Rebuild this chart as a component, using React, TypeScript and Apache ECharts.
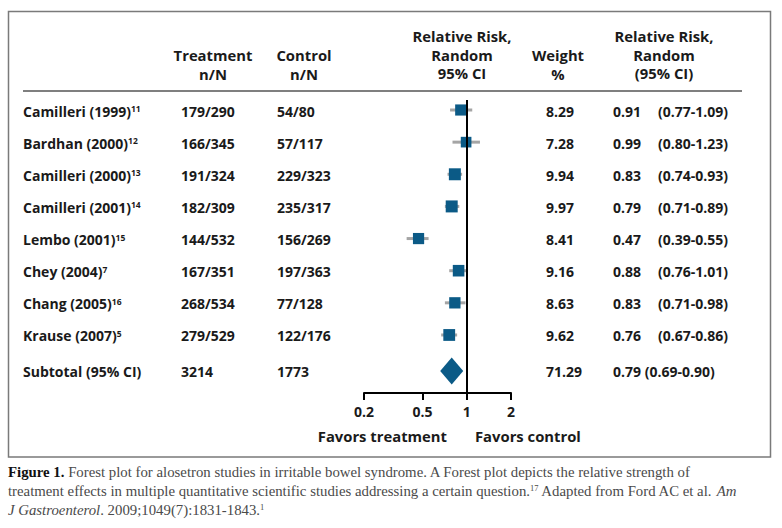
import React, { useEffect, useRef } from 'react';
import * as echarts from 'echarts';

// ---- data ----
const studies = ['Camilleri (1999)', 'Bardhan (2000)', 'Camilleri (2000)', 'Camilleri (2001)', 'Lembo (2001)', 'Chey (2004)', 'Chang (2005)', 'Krause (2007)'];
const refs = ['11', '12', '13', '14', '15', '7', '16', '5'];
const treatment = ['179/290', '166/345', '191/324', '182/309', '144/532', '167/351', '268/534', '279/529'];
const control = ['54/80', '57/117', '229/323', '235/317', '156/269', '197/363', '77/128', '122/176'];
const weights = [8.29, 7.28, 9.94, 9.97, 8.41, 9.16, 8.63, 9.62];
const rr = [0.91, 0.99, 0.83, 0.79, 0.47, 0.88, 0.83, 0.76];
const ciLow = [0.77, 0.8, 0.74, 0.71, 0.39, 0.76, 0.71, 0.67];
const ciHigh = [1.09, 1.23, 0.93, 0.89, 0.55, 1.01, 0.98, 0.86];

const subtotalLabel = 'Subtotal (95% CI)';
const subtotalTreatment = '3214';
const subtotalControl = '1773';
const subtotalWeight = 71.29;
const subtotalRR = 0.79;
const subtotalLow = 0.69;
const subtotalHigh = 0.9;

const axisTicks = [0.2, 0.5, 1, 2];

// ---- layout ----
const SANS = '"Open Sans", "Noto Sans", sans-serif';
const SERIF = '"Liberation Serif", "DejaVu Serif", serif';
const TXT = '#1a1a1a';
const BLUE = '#0b5a86';
const FS = 14;
const HFS = 14.8;
const CFS = 14.8;
const ROW_H = 32.14;
const ROW0 = 110;
const GRID_TOP = 100;
const GRID_BOTTOM = 393;
const yMin = (GRID_TOP - ROW0) / ROW_H;
const yMax = (GRID_BOTTOM - ROW0) / ROW_H;
const subtotalRow = 8.12;
const COL = { study: 23, treat: 181, control: 277, weight: 546, rr: 613, ci: 658 };

const rows = studies.map((_, i) => i);

export default function App() {
  const ref = useRef<HTMLDivElement>(null);
  useEffect(() => {
    document.body.style.margin = '0';
    const chart = echarts.init(ref.current!, null, { renderer: 'svg' });

    const textCol = (x: number, texts: string[], rowPos: number[], align: string, richNames = false) => ({
      type: 'custom',
      xAxisIndex: 1,
      yAxisIndex: 1,
      silent: true,
      data: rowPos.map((r) => [x, r]),
      renderItem: (params: any, api: any) => {
        const p = api.coord([api.value(0), api.value(1)]);
        return {
          type: 'text',
          x: p[0],
          y: p[1] + 1,
          style: {
            text: texts[params.dataIndex],
            fill: TXT,
            fontSize: FS,
            fontWeight: 'bold',
            fontFamily: SANS,
            align,
            verticalAlign: 'middle',
            rich: richNames
              ? {
                  n: { fontSize: FS, fontWeight: 'bold', fontFamily: SANS, fill: TXT },
                  s: { fontSize: 8.5, fontWeight: 'bold', fontFamily: SANS, fill: TXT, verticalAlign: 'top', lineHeight: 9 },
                }
              : undefined,
          },
        };
      },
    });

    const allRows = [...rows, subtotalRow];
    const nameTexts = [...studies.map((s, i) => `{n|${s}}{s|${refs[i]}}`), `{n|${subtotalLabel}}`];
    const treatTexts = [...treatment, subtotalTreatment];
    const controlTexts = [...control, subtotalControl];
    const weightTexts = [...weights.map((w) => w.toFixed(2)), subtotalWeight.toFixed(2)];
    const rrTexts = [
      ...rr.map((v) => v.toFixed(2)),
      `${subtotalRR.toFixed(2)} (${subtotalLow.toFixed(2)}-${subtotalHigh.toFixed(2)})`,
    ];
    const ciTexts = ciLow.map((l, i) => `(${l.toFixed(2)}-${ciHigh[i].toFixed(2)})`);

    const headerStyle = (text: string) => ({
      text,
      fill: TXT,
      fontSize: HFS,
      fontWeight: 'bold',
      fontFamily: SANS,
      align: 'center',
      verticalAlign: 'top',
      lineHeight: 18.5,
    });

    const capBase = { fill: '#4a4a4a', fontSize: CFS, fontFamily: SERIF };

    chart.setOption({
      animation: false,
      grid: [
        { left: 364, width: 147, top: GRID_TOP, height: GRID_BOTTOM - GRID_TOP },
        { left: 0, width: 782, top: GRID_TOP, height: GRID_BOTTOM - GRID_TOP },
      ],
      xAxis: [
        {
          type: 'log',
          logBase: 10,
          gridIndex: 0,
          position: 'bottom',
          min: 0.2,
          max: 2,
          splitLine: { show: false },
          axisLine: { onZero: false, lineStyle: { color: '#000', width: 2 } },
          axisTick: { customValues: axisTicks, length: 7, lineStyle: { color: '#000', width: 2 } },
          axisLabel: {
            customValues: axisTicks,
            margin: 11,
            fontSize: FS,
            fontWeight: 'bold',
            fontFamily: SANS,
            color: TXT,
            formatter: (v: number) => String(+Number(v).toPrecision(3)),
          },
        },
        { type: 'value', gridIndex: 1, min: 0, max: 782, show: false },
      ],
      yAxis: [
        { type: 'value', gridIndex: 0, inverse: true, min: yMin, max: yMax, show: false },
        { type: 'value', gridIndex: 1, inverse: true, min: yMin, max: yMax, show: false },
      ],
      graphic: [
        { type: 'rect', shape: { x: 8.5, y: 11.5, width: 762, height: 445.5 }, style: { fill: 'none', stroke: '#7a7a7a', lineWidth: 1.5 }, z: 1 },
        { type: 'line', shape: { x1: 23, y1: 91, x2: 742, y2: 91 }, style: { stroke: '#555', lineWidth: 1.5 } },
        { type: 'text', x: 213, y: 46, style: headerStyle('Treatment\nn/N') },
        { type: 'text', x: 304, y: 46, style: headerStyle('Control\nn/N') },
        { type: 'text', x: 462, y: 27, style: headerStyle('Relative Risk,\nRandom\n95% CI') },
        { type: 'text', x: 558, y: 46, style: headerStyle('Weight\n%') },
        { type: 'text', x: 664, y: 27, style: headerStyle('Relative Risk,\nRandom\n(95% CI)') },
        { type: 'text', x: 447, y: 436, style: { text: 'Favors treatment', fill: TXT, fontSize: HFS, fontWeight: 'bold', fontFamily: SANS, align: 'right', verticalAlign: 'middle' } },
        { type: 'text', x: 475, y: 436, style: { text: 'Favors control', fill: TXT, fontSize: HFS, fontWeight: 'bold', fontFamily: SANS, align: 'left', verticalAlign: 'middle' } },
        {
          type: 'text', x: 8, y: 472,
          style: {
            ...capBase,
            verticalAlign: 'middle',
            text: '{b|Figure 1.} Forest plot for alosetron studies in irritable bowel syndrome. A Forest plot depicts the relative strength of',
            rich: { b: { fontWeight: 'bold', fill: '#111', fontSize: CFS, fontFamily: SERIF } },
          },
        },
        {
          type: 'text', x: 8, y: 491,
          style: {
            ...capBase,
            verticalAlign: 'middle',
            text: 'treatment effects in multiple quantitative scientific studies addressing a certain question.{s|17} Adapted from Ford AC et al. {i|Am}',
            rich: {
              i: { ...capBase, fontStyle: 'italic' },
              s: { ...capBase, fontSize: 8.5, verticalAlign: 'top', lineHeight: 9 },
            },
          },
        },
        {
          type: 'text', x: 8, y: 510,
          style: {
            ...capBase,
            verticalAlign: 'middle',
            text: '{i|J Gastroenterol}. 2009;1049(7):1831-1843.{s|1}',
            rich: {
              i: { ...capBase, fontStyle: 'italic' },
              s: { ...capBase, fontSize: 8.5, verticalAlign: 'top', lineHeight: 9 },
            },
          },
        },
      ],
      series: [
        {
          type: 'custom',
          xAxisIndex: 0,
          yAxisIndex: 0,
          silent: true,
          z: 2,
          data: rows.map((r, i) => [ciLow[i], ciHigh[i], r]),
          renderItem: (params: any, api: any) => {
            const a = api.coord([api.value(0), api.value(2)]);
            const b = api.coord([api.value(1), api.value(2)]);
            return { type: 'line', shape: { x1: a[0], y1: a[1], x2: b[0], y2: b[1] }, style: { stroke: '#a5a5a5', lineWidth: 3 } };
          },
        },
        {
          type: 'scatter',
          xAxisIndex: 0,
          yAxisIndex: 0,
          silent: true,
          z: 3,
          symbol: 'rect',
          symbolSize: (_: any, p: any) => 7 + weights[p.dataIndex] * 0.5,
          itemStyle: { color: BLUE, opacity: 1 },
          data: rows.map((r, i) => [rr[i], r]),
          markLine: {
            silent: true,
            symbol: 'none',
            label: { show: false },
            lineStyle: { color: '#000', width: 2, type: 'solid' },
            data: [{ xAxis: 1 }],
          },
        },
        {
          type: 'scatter',
          xAxisIndex: 0,
          yAxisIndex: 0,
          silent: true,
          z: 3,
          symbol: 'diamond',
          symbolSize: [23, 27],
          itemStyle: { color: BLUE, opacity: 1 },
          data: [[subtotalRR, subtotalRow]],
        },
        textCol(COL.study, nameTexts, allRows, 'left', true),
        textCol(COL.treat, treatTexts, allRows, 'left'),
        textCol(COL.control, controlTexts, allRows, 'left'),
        textCol(COL.weight, weightTexts, allRows, 'left'),
        textCol(COL.rr, rrTexts, allRows, 'left'),
        textCol(COL.ci, ciTexts, rows, 'left'),
      ],
    });
    return () => chart.dispose();
  }, []);
  return <div ref={ref} style={{ width: 782, height: 528, background: '#fff' }} />;
}
